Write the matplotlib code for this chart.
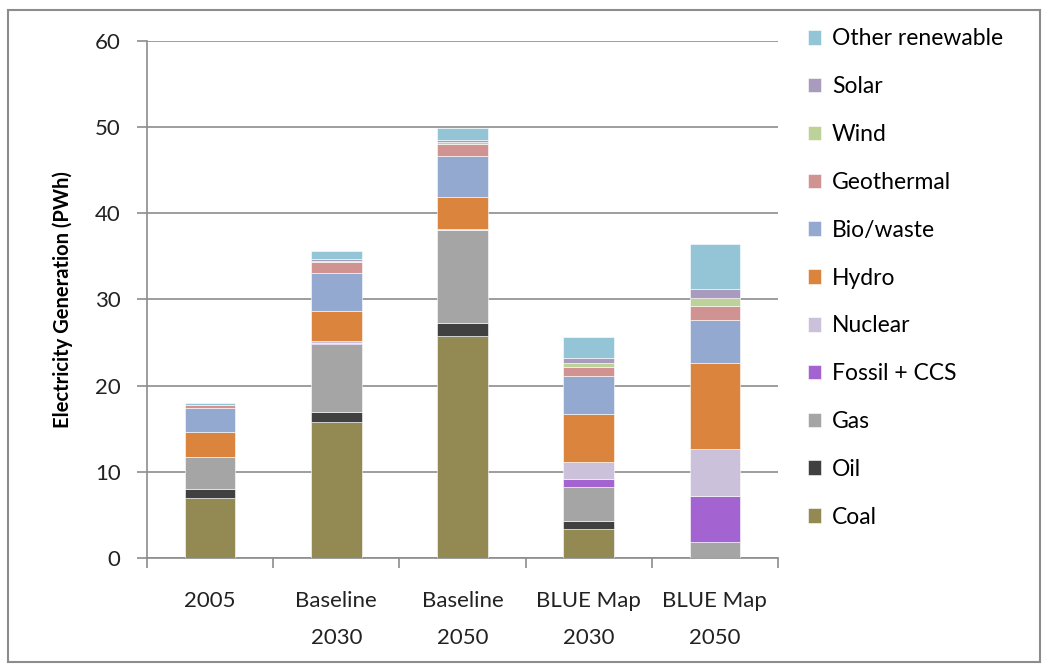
import numpy as np
import matplotlib.pyplot as plt
from matplotlib.patches import Rectangle

plt.rcParams['font.family'] = ['Lato', 'DejaVu Sans']

scenarios = ['2005', 'Baseline\n2030', 'Baseline\n2050', 'BLUE Map\n2030', 'BLUE Map\n2050']

# generation by source, PWh
coal       = [7.0, 15.74, 25.73, 3.37, 0.0]
oil        = [1.05, 1.20, 1.54, 0.89, 0.0]
gas        = [3.64, 7.86, 10.83, 3.98, 1.82]
fossil_ccs = [0.0, 0.20, 0.0, 0.89, 5.34]
nuclear    = [0.0, 0.15, 0.10, 2.05, 5.49]
hydro      = [2.93, 3.48, 3.68, 5.57, 10.02]
bio_waste  = [2.83, 4.45, 4.72, 4.33, 4.91]
geothermal = [0.28, 1.23, 1.47, 1.09, 1.67]
wind       = [0.05, 0.20, 0.23, 0.46, 0.92]
solar      = [0.02, 0.19, 0.23, 0.58, 1.09]
other      = [0.20, 0.93, 1.35, 2.44, 5.22]

sources = ['Coal', 'Oil', 'Gas', 'Fossil + CCS', 'Nuclear', 'Hydro',
           'Bio/waste', 'Geothermal', 'Wind', 'Solar', 'Other renewable']
series = [coal, oil, gas, fossil_ccs, nuclear, hydro,
          bio_waste, geothermal, wind, solar, other]
colors = ['#938953', '#404040', '#A5A5A5', '#A363D1', '#CCC1DA', '#DB843D',
          '#93A9CF', '#D19392', '#BDD299', '#A99BBD', '#93C5D6']

fig = plt.figure(figsize=(10.48, 6.66), dpi=100)
ax = fig.add_axes([0.1403, 0.1622, 0.6021, 0.7763])

x = np.arange(len(scenarios))
bottom = np.zeros(len(scenarios))
bars = []
for name, vals, c in zip(sources, series, colors):
    vals = np.array(vals)
    b = ax.bar(x, vals, 0.4, bottom=bottom, color=c, edgecolor='white',
               linewidth=0.4, label=name, zorder=3)
    bars.append(b)
    bottom += vals

grid_c = '#8c8c8c'
ax.set_xlim(-0.5, 4.5)
ax.set_ylim(0, 60)
ax.set_yticks(range(0, 61, 10))
ax.yaxis.grid(True, color=grid_c, linewidth=1.2, zorder=0)
for s in ['top', 'right']:
    ax.spines[s].set_visible(False)
for s in ['left', 'bottom']:
    ax.spines[s].set_color(grid_c)
    ax.spines[s].set_linewidth(1.2)

ax.tick_params(axis='y', length=7, width=1.2, color=grid_c, labelsize=16,
               pad=12, labelcolor='#222222')
ax.set_xticks(x)
ax.set_xticklabels(scenarios, fontsize=16, linespacing=2.05, color='#222222')
ax.set_xticks(np.arange(-0.5, 5, 1), minor=True)
ax.tick_params(axis='x', which='major', length=0, pad=24)
ax.tick_params(axis='x', which='minor', length=7, width=1.2, color=grid_c)

ax.set_ylabel('Electricity Generation (PWh)', fontsize=14.5, fontweight='bold',
              labelpad=16)

handles = bars[::-1]
labels = sources[::-1]
fig.legend(handles, labels, loc='upper left', bbox_to_anchor=(0.762, 0.971),
           frameon=False, fontsize=16.5, labelspacing=1.17, handlelength=0.6,
           handleheight=0.6, handletextpad=0.45, borderaxespad=0)

# outer chart border
fig.patches.append(Rectangle((8 / 1048, 4 / 666), 1032 / 1048, 652 / 666,
                             transform=fig.transFigure, fill=False,
                             edgecolor='#8c8c8c', linewidth=1.5))

fig.savefig('out.png', dpi=100)
